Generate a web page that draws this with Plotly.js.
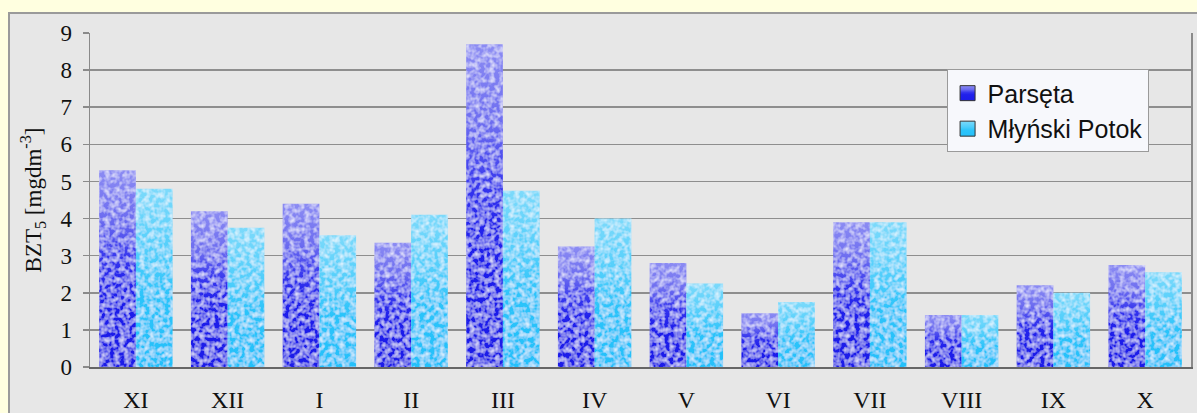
<!DOCTYPE html>
<html>
<head>
<meta charset="utf-8">
<script src="https://cdn.plot.ly/plotly-3.0.1.min.js"></script>
<style>
  html, body { margin: 0; padding: 0; background: #FFFFE0; }
  #panel {
    position: absolute; left: 8px; top: 12px;
    width: 1189px; height: 401px;
    background: #E7E7E7;
    border-left: 2px solid #9a9a9a; border-top: 2px solid #9a9a9a;
    box-sizing: border-box;
  }
  #chart { position: absolute; left: 0; top: 0; width: 1187px; height: 399px; }
</style>
</head>
<body>
<!-- paint servers for the textured bar fills -->
<svg width="0" height="0" style="position:absolute">
  <defs>
    <linearGradient id="fill0" x1="0" y1="0" x2="0" y2="1">
      <stop offset="0" stop-color="#8c8cf3"/>
      <stop offset="0.25" stop-color="#6c6cf0"/>
      <stop offset="0.45" stop-color="#3434ee"/>
      <stop offset="0.6" stop-color="#2020ec"/>
      <stop offset="1" stop-color="#1c1ce8"/>
    </linearGradient>
    <linearGradient id="fill1" x1="0" y1="0" x2="0" y2="1">
      <stop offset="0" stop-color="#7cdafb"/>
      <stop offset="0.4" stop-color="#4ccdfb"/>
      <stop offset="0.6" stop-color="#2cc4fa"/>
      <stop offset="1" stop-color="#24c0fa"/>
    </linearGradient>
    <filter id="mottle" x="0" y="0" width="1" height="1">
      <feTurbulence type="fractalNoise" baseFrequency="0.2" numOctaves="2" seed="7" result="n"/>
      <feGaussianBlur in="n" stdDeviation="0.6" result="nb"/>
      <feColorMatrix in="nb" type="matrix"
        values="0 0 0 0 1  0 0 0 0 1  0 0 0 0 1  0 0 0 1.3 -0.47" result="w"/>
      <feComposite in="w" in2="SourceGraphic" operator="in" result="wc"/>
      <feMerge><feMergeNode in="SourceGraphic"/><feMergeNode in="wc"/></feMerge>
    </filter>
  </defs>
</svg>
<div id="panel"><div id="chart"></div></div>
<script>
// Monthly BZT5 values for the two rivers
const months = ['XI', 'XII', 'I', 'II', 'III', 'IV', 'V', 'VI', 'VII', 'VIII', 'IX', 'X'];
const parseta = [5.3, 4.2, 4.4, 3.35, 8.7, 3.25, 2.8, 1.45, 3.9, 1.4, 2.2, 2.75];
const mlynskiPotok = [4.8, 3.75, 3.55, 4.1, 4.75, 4.0, 2.25, 1.75, 3.9, 1.4, 2.0, 2.55];
const yTicks = [0, 1, 2, 3, 4, 5, 6, 7, 8, 9];

const serif = 'Liberation Serif, Times New Roman, serif';
const sans = 'Liberation Sans, Arial, sans-serif';

const data = [
  { type: 'bar', name: 'Parsęta', x: months, y: parseta, legendgroup: 'a',
    marker: { color: '#3a3aee' } },
  { type: 'bar', name: 'Młyński Potok', x: months, y: mlynskiPotok, legendgroup: 'b',
    marker: { color: '#48cbfa' } }
];

const layout = {
  width: 1187, height: 399,
  margin: { l: 80, r: 6, t: 19, b: 46 },
  paper_bgcolor: '#E7E7E7',
  plot_bgcolor: '#E7E7E7',
  barmode: 'group',
  bargap: 0.2,
  bargroupgap: 0,
  showlegend: true,
  legend: {
    x: 0.778, xanchor: 'left', y: 0.891, yanchor: 'top',
    bgcolor: '#F7F8FC', bordercolor: '#9a9a9a', borderwidth: 1,
    font: { family: sans, size: 25, color: '#111' },
    tracegroupgap: 0
  },
  xaxis: {
    type: 'category',
    showline: true, linecolor: '#666', linewidth: 2,
    ticks: '', showgrid: false,
    tickfont: { family: serif, size: 24, color: '#111' },
    ticklabelstandoff: 10,
    fixedrange: true
  },
  yaxis: {
    range: [0, 9], tickvals: yTicks, ticktext: yTicks.map(String),
    showline: true, mirror: true, linecolor: '#8a8a8a', linewidth: 1.5,
    ticks: 'outside', ticklen: 6, tickcolor: '#8a8a8a', tickwidth: 1.5,
    showgrid: true, gridcolor: '#8e8e8e', gridwidth: 1.5,
    zeroline: false,
    tickfont: { family: serif, size: 23, color: '#111' },
    ticklabelstandoff: 6,
    title: {
      text: 'BZT<sub>5</sub> [mgdm<sup>-3</sup>]',
      font: { family: serif, size: 23, color: '#111' },
      standoff: 12
    },
    fixedrange: true
  }
};

Plotly.newPlot('chart', data, layout, { displayModeBar: false, staticPlot: true }).then(function () {
  // textured gradient paint on the bars
  document.querySelectorAll('#chart .barlayer .trace').forEach(function (t, i) {
    t.querySelectorAll('path').forEach(function (p) {
      p.style.fill = 'url(#fill' + i + ')';
      p.style.filter = 'url(#mottle)';
    });
  });
  // legend swatches: slightly larger, with a dark outline
  document.querySelectorAll('#chart .legend .traces').forEach(function (t, i) {
    t.querySelectorAll('.legendpoints path').forEach(function (p) {
      p.setAttribute('d', 'M7.5,7.5H-7.5V-7.5H7.5Z');
      p.style.fill = 'url(#fill' + i + ')';
      p.style.stroke = '#333';
      p.style.strokeWidth = '1px';
    });
  });
});
</script>
</body>
</html>
